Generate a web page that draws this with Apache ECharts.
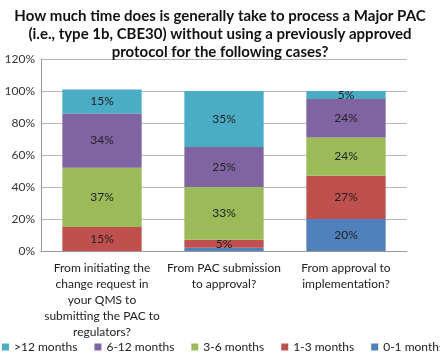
<!DOCTYPE html>
<html style="height: 100%">
<head>
    <meta charset="utf-8">
</head>
<body style="height: 100%; margin: 0; background: #fff">
    <div id="container" style="width: 440px; height: 352px"></div>
    <script type="text/javascript" src="https://cdn.jsdelivr.net/npm/echarts@6/dist/echarts.min.js"></script>
    <script type="text/javascript">
        // categories (x axis)
        var categories = [
            'From initiating the\nchange request in\nyour QMS to\nsubmitting the PAC to\nregulators?',
            'From PAC submission\nto approval?',
            'From approval to\nimplementation?'
        ];
        // percent of respondents, per category
        var m0to1 = [0, 2, 20];
        var m1to3 = [15, 5, 27];
        var m3to6 = [37, 33, 24];
        var m6to12 = [34, 25, 24];
        var m12plus = [15, 35, 5];

        var font = 'Lato, "Open Sans", sans-serif';

        function makeSeries(name, data, color) {
            return {
                name: name,
                type: 'bar',
                stack: 'total',
                barWidth: '65%',
                data: data,
                itemStyle: { color: color },
                label: {
                    show: true,
                    position: 'inside',
                    color: '#222',
                    fontSize: 12,
                    fontFamily: font,
                    formatter: function (p) {
                        return p.value >= 4 ? p.value + '%' : '';
                    }
                }
            };
        }

        var dom = document.getElementById('container');
        var myChart = echarts.init(dom);
        var option = {
            animation: false,
            title: {
                text: 'How much time does is generally take to process a Major PAC\n(i.e., type 1b, CBE30) without using a previously approved\nprotocol for the following cases?',
                left: 'center',
                top: 2,
                textStyle: {
                    fontSize: 15,
                    fontWeight: 'bold',
                    lineHeight: 18,
                    color: '#111',
                    fontFamily: font
                }
            },
            legend: {
                left: 2,
                top: 341,
                padding: 0,
                width: 700,
                itemWidth: 7,
                itemHeight: 7,
                itemGap: 17,
                icon: 'rect',
                data: ['>12 months', '6-12 months', '3-6 months', '1-3 months', '0-1 months'],
                textStyle: { fontSize: 12, color: '#222', fontFamily: font }
            },
            grid: {
                left: 41,
                right: 33,
                top: 59,
                bottom: 101
            },
            xAxis: {
                type: 'category',
                data: categories,
                axisTick: { show: false },
                axisLine: { lineStyle: { color: '#999' } },
                axisLabel: {
                    interval: 0,
                    fontSize: 12,
                    lineHeight: 16,
                    color: '#222',
                    fontFamily: font,
                    margin: 9
                }
            },
            yAxis: {
                type: 'value',
                min: 0,
                max: 120,
                interval: 20,
                axisLine: { show: true, lineStyle: { color: '#999' } },
                axisLabel: {
                    formatter: '{value}%',
                    fontSize: 12,
                    color: '#333',
                    fontFamily: font,
                    margin: 6
                },
                splitLine: { lineStyle: { color: '#b5b5b5' } }
            },
            series: [
                makeSeries('0-1 months', m0to1, '#4F81BD'),
                makeSeries('1-3 months', m1to3, '#C0504D'),
                makeSeries('3-6 months', m3to6, '#9BBB59'),
                makeSeries('6-12 months', m6to12, '#8064A2'),
                makeSeries('>12 months', m12plus, '#4BACC6')
            ]
        };
        myChart.setOption(option);
    </script>
</body>
</html>
